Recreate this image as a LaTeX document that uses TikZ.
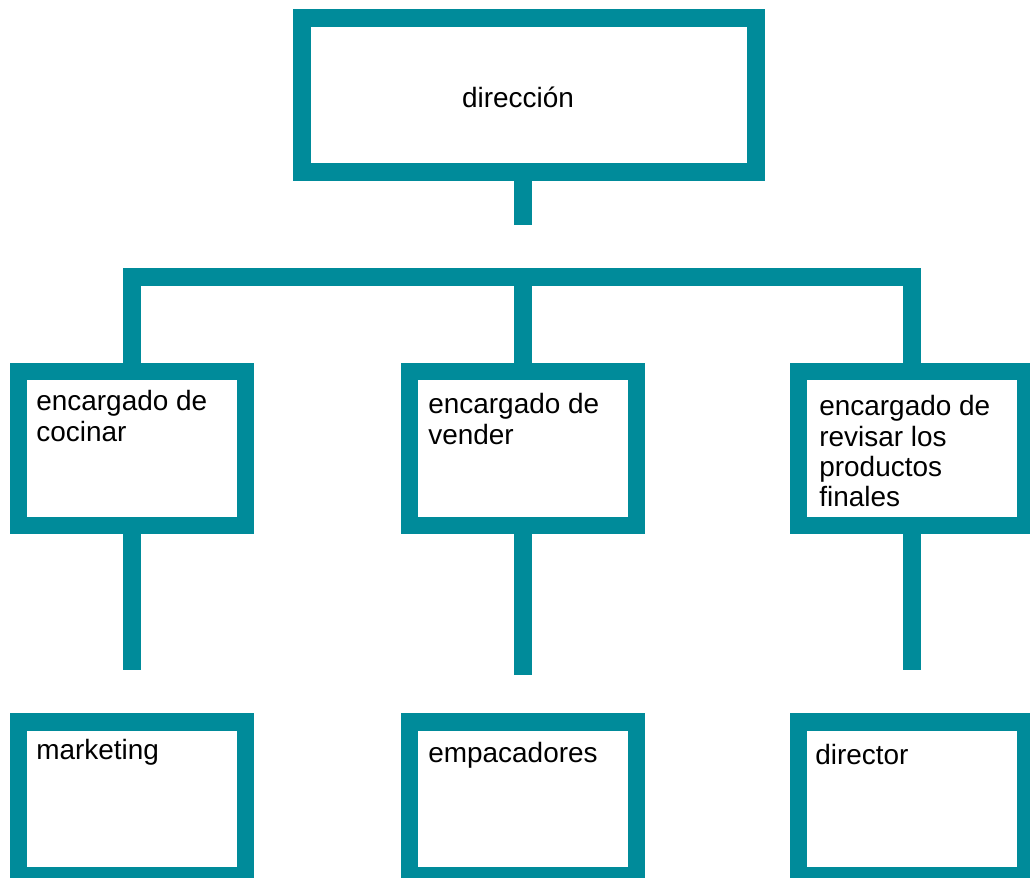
\documentclass[tikz,border=0pt]{standalone}
\usepackage{fontspec}
\setmainfont{Liberation Sans}
\usetikzlibrary{positioning}
\definecolor{orgteal}{RGB}{0,139,154}

\begin{document}
\begin{tikzpicture}[
        x=0.02cm, y=-0.02cm,
        box/.style = {draw=orgteal, fill=white, line width=0.35cm, rectangle, minimum width=4.54cm, minimum height=3.08cm, inner sep=0pt},
        txt/.style = {anchor=north west, inner sep=0pt, align=left, font=\fontsize{15.9}{17.3}\selectfont},
        link/.style = {draw=orgteal, line width=0.36cm, line join=miter}]

    \def\midy{448.5}
    \def\lowy{799}

    \useasboundingbox (0,0) rectangle (1030,877);

    % boxes
    \node[box, minimum width=9.09cm] (dir) at (529,95) {};
    \foreach \x/\n in {132/coc,523/ven,912/rev}
        {
            \node[box] (\n) at (\x,\midy) {};
        }
    \foreach \x/\n in {132/mkt,523/emp,912/jefe}
        {
            \node[box] (\n) at (\x,\lowy) {};
        }

    % connectors
    \coordinate (hub) at (523,225);
    \coordinate (bar) at (523,277);
    \coordinate (e-coc) at (132,670);
    \coordinate (e-ven) at (523,675);
    \coordinate (e-rev) at (912,670);

    \draw[link] (hub |- dir.south) -- (hub);
    \draw[link] (coc.north) -- (coc.north |- bar) -- (rev.north |- bar) -- (rev.north);
    \draw[link] (ven.north) -- (ven.north |- bar);
    \draw[link] (coc.south) -- (e-coc);
    \draw[link] (ven.south) -- (e-ven);
    \draw[link] (rev.south) -- (e-rev);

    % texts
    \node[txt, anchor=base] (t-dir) at (518,107) {dirección};
    \node[txt] (t-coc) at (36,390) {encargado de\\cocinar};
    \node[txt] (t-ven) at (428,393) {encargado de\\vender};
    \node[txt] (t-rev) at (819,395) {encargado de\\revisar los\\productos\\finales};
    \node[txt] (t-mkt) at (36,739) {marketing};
    \node[txt] (t-emp) at (428,742) {empacadores};
    \node[txt] (t-jefe) at (815,744) {director};

\end{tikzpicture}
\end{document}
